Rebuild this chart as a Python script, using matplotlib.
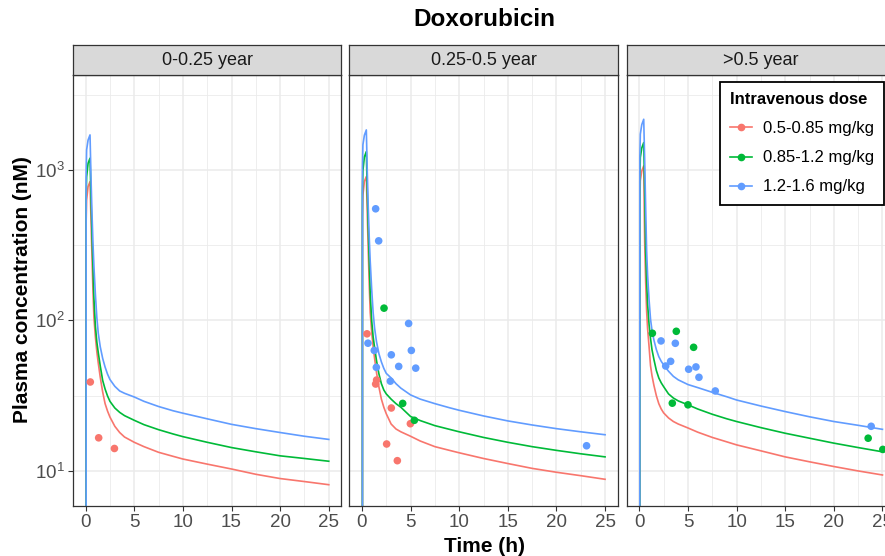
import numpy as np
import matplotlib
matplotlib.use("Agg")
import matplotlib.pyplot as plt
from matplotlib.lines import Line2D
from matplotlib.ticker import FixedLocator, LogFormatterSciNotation

plt.rcParams['font.family'] = ['Liberation Sans', 'DejaVu Sans']
plt.rcParams['mathtext.fontset'] = 'custom'
plt.rcParams['mathtext.rm'] = 'Liberation Sans'
plt.rcParams['mathtext.default'] = 'regular'

# ---------------- data ----------------
panels = ["0-0.25 year", "0.25-0.5 year", ">0.5 year"]
doses = ["0.5-0.85 mg/kg", "0.85-1.2 mg/kg", "1.2-1.6 mg/kg"]
colors = ["#F8766D", "#00BA38", "#619CFF"]

model_time = [0, 0.05, 0.1, 0.25, 0.45, 0.55, 0.65, 0.75, 0.85, 1.0, 1.15, 1.3, 1.5, 1.75, 2.0,
              2.25, 2.5, 3.0, 3.5, 4.0, 5, 6, 7.5, 9, 10, 12.5, 15, 17.5, 20, 22.5, 25]

# panel 1 (0-0.25 year) model curves
p1_low = [0, 450, 630, 775, 836, 470, 270, 160, 105, 78, 62, 52, 42, 33.5, 28,
          25, 22.8, 19.8, 18, 16.8, 15.5, 14.5, 13.3, 12.5, 12.0, 11.1, 10.3, 9.5, 8.9, 8.5, 8.1]
p1_mid = [0, 650, 900, 1107, 1197, 660, 380, 230, 140, 92, 72, 61, 50, 40, 35,
          31.5, 29, 26.2, 24.5, 23.3, 21.7, 20.3, 18.8, 17.6, 16.9, 15.5, 14.3, 13.4, 12.6, 12.1, 11.6]
p1_high = [0, 950, 1360, 1580, 1710, 900, 520, 330, 230, 150, 105, 82, 67, 56, 49,
           44, 40.5, 36.5, 34, 32.8, 31, 29, 26.8, 25.1, 24.2, 22.2, 20.4, 19.1, 18.0, 17.0, 16.2]
# panel 2 (0.25-0.5 year) model curves
p2_low = [0, 490, 680, 840, 903, 510, 290, 173, 113, 84, 67, 56, 45, 36, 30,
          26.5, 24, 20.5, 19, 18.2, 17, 15.8, 14.5, 13.7, 13.2, 12.1, 11.2, 10.4, 9.8, 9.3, 8.8]
p2_mid = [0, 700, 990, 1220, 1324, 710, 410, 250, 152, 100, 78, 66, 54, 44, 38,
          34.5, 32.5, 30, 28, 26.5, 23, 21.6, 20, 18.9, 18.2, 16.7, 15.5, 14.5, 13.7, 13, 12.4]
p2_high = [0, 1020, 1470, 1700, 1845, 970, 560, 355, 248, 162, 113, 89, 72, 60, 53,
           48, 44.5, 41.5, 38, 35.5, 32, 30, 28, 26.3, 25.3, 23.2, 21.5, 20.2, 19.1, 18.2, 17.4]
# panel 3 (>0.5 year) model curves
p3_low = [0, 590, 850, 985, 1063, 330, 180, 115, 88, 67, 50, 43, 37, 31.6, 28,
          25.8, 24.3, 22.5, 21.3, 20.5, 19.3, 18.1, 16.7, 15.6, 14.9, 13.6, 12.4, 11.5, 10.7, 10, 9.4]
p3_mid = [0, 840, 1210, 1400, 1520, 720, 290, 180, 128, 94, 76, 64, 55, 46.5, 41.5,
          38.5, 36.3, 32.5, 30.5, 29.2, 27.5, 25.8, 23.8, 22.2, 21.3, 19.4, 17.8, 16.5, 15.3, 14.3, 13.4]
p3_high = [0, 1200, 1730, 2000, 2172, 1150, 560, 290, 200, 137, 102, 86, 74, 64, 57.5,
           53.5, 50.6, 46, 42.5, 40.3, 37.5, 35.8, 33.3, 31.1, 29.6, 27, 24.8, 22.9, 21.3, 20.1, 18.9]

# observed points
p1_low_t = [0.48, 1.34, 2.96]
p1_low_c = [39, 16.6, 14.1]

p2_low_t = [0.52, 1.51, 1.41, 3.02, 4.98, 2.54, 3.64]
p2_low_c = [81.5, 40.2, 37.8, 26.2, 20.6, 15.1, 11.7]
p2_mid_t = [2.27, 4.19, 5.39]
p2_mid_c = [120.7, 28.1, 21.7]
p2_high_t = [1.41, 1.72, 4.80, 0.62, 1.27, 5.08, 3.02, 1.48, 3.78, 5.53, 2.92, 23.1]
p2_high_c = [552, 338, 95.5, 70.6, 63.2, 63.2, 59.1, 48.8, 49.5, 48.2, 39.5, 14.7]

p3_mid_t = [1.34, 3.80, 5.58, 3.39, 5.00, 23.53, 25.04]
p3_mid_c = [82.2, 84.7, 66.3, 28.2, 27.5, 16.5, 13.9]
p3_high_t = [2.23, 3.70, 3.22, 2.71, 5.07, 5.82, 6.13, 7.81, 23.84]
p3_high_c = [73.1, 70.5, 53.5, 49.8, 47.4, 49.1, 41.9, 34.0, 19.8]

x_ticks = [0, 5, 10, 15, 20, 25]

curves = [[p1_low, p1_mid, p1_high], [p2_low, p2_mid, p2_high], [p3_low, p3_mid, p3_high]]
obs = [
    [(p1_low_t, p1_low_c), None, None],
    [(p2_low_t, p2_low_c), (p2_mid_t, p2_mid_c), (p2_high_t, p2_high_c)],
    [None, (p3_mid_t, p3_mid_c), (p3_high_t, p3_high_c)],
]

# ---------------- figure ----------------
W, H = 885, 556
fig = plt.figure(figsize=(W / 100, H / 100), dpi=100)

def fx(px):
    return px / W

def fy(py):
    return 1 - py / H

panel_left = [73, 349.3, 626.7]
panel_w = 268.4
panel_top, panel_bot = 75, 505.7
strip_top = 45

ylo, yhi = 10 ** 0.769, 10 ** 3.631
border = "#333333"

for i in range(3):
    ax = fig.add_axes([fx(panel_left[i]), fy(panel_bot), panel_w / W, (panel_bot - panel_top) / H])
    ax.set_yscale('log', nonpositive='clip')
    ax.set_xlim(-1.3, 26.3)
    ax.set_ylim(ylo, yhi)
    ax.set_facecolor('white')
    ax.xaxis.set_major_locator(FixedLocator(x_ticks))
    ax.xaxis.set_minor_locator(FixedLocator([2.5, 7.5, 12.5, 17.5, 22.5]))
    ax.yaxis.set_major_locator(FixedLocator([10, 100, 1000]))
    ax.yaxis.set_minor_locator(FixedLocator([10 ** 0.5, 10 ** 1.5, 10 ** 2.5, 10 ** 3.5]))
    ax.yaxis.set_major_formatter(LogFormatterSciNotation())
    ax.grid(which='major', color='#EBEBEB', lw=1.1)
    ax.grid(which='minor', color='#EBEBEB', lw=0.6)
    ax.set_axisbelow(True)
    ax.tick_params(which='minor', length=0)
    ax.tick_params(which='major', length=3.5, width=0.8, color=border,
                   labelsize=13.5, labelcolor='#4D4D4D', pad=2.5)
    if i > 0:
        ax.tick_params(axis='y', labelleft=False, length=0)
    for s in ax.spines.values():
        s.set_color(border)
        s.set_linewidth(0.9)

    for k in range(3):
        ax.plot(model_time, curves[i][k], color=colors[k], lw=1.2, zorder=2)
    for k in range(3):
        if obs[i][k] is not None:
            t, c = obs[i][k]
            ax.scatter(t, c, s=30, color=colors[k], edgecolors='none', zorder=3)

    # strip
    sax = fig.add_axes([fx(panel_left[i]), fy(panel_top), panel_w / W, (panel_top - strip_top) / H])
    sax.set_facecolor('#D9D9D9')
    sax.set_xticks([])
    sax.set_yticks([])
    for s in sax.spines.values():
        s.set_color(border)
        s.set_linewidth(0.9)
    sax.text(0.5, 0.47, panels[i], ha='center', va='center', fontsize=13,
             color='#1A1A1A', transform=sax.transAxes)

fig.text(fx(484), fy(20), "Doxorubicin", ha='center', va='center', fontsize=17.5, fontweight='bold')
fig.text(fx(484), fy(546), "Time (h)", ha='center', va='center', fontsize=15, fontweight='bold')
fig.text(fx(23), fy(290), "Plasma concentration (nM)", ha='center', va='center',
         rotation=90, fontsize=15, fontweight='bold')

handles = [Line2D([0], [0], color=c, lw=1.2, marker='o', markersize=4.5) for c in colors]
leg = fig.legend(handles, doses, title="Intravenous dose", loc='upper left',
                 bbox_to_anchor=(fx(720), fy(82)), frameon=True, fancybox=False,
                 edgecolor='black', framealpha=1, fontsize=12,
                 title_fontproperties={'weight': 'bold', 'size': 12},
                 alignment='left', handlelength=1.3, handletextpad=0.7,
                 borderpad=0.6, labelspacing=0.85, borderaxespad=0)
leg.get_frame().set_linewidth(1.3)

fig.savefig("out.png", dpi=100)
